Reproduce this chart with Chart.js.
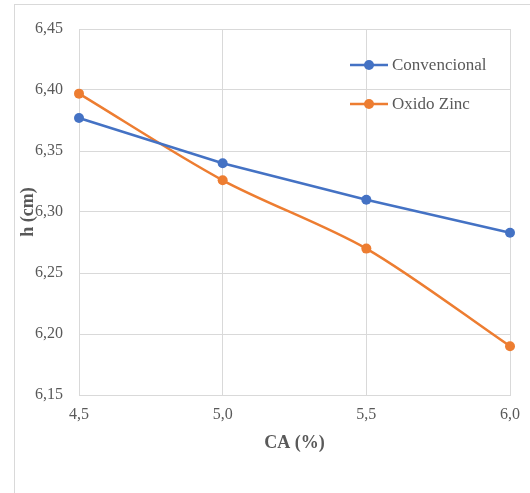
<!DOCTYPE html>
<html lang="es">
<head>
    <meta charset="UTF-8">
    <title>h vs CA</title>
    <script src="https://cdnjs.cloudflare.com/ajax/libs/Chart.js/4.4.0/chart.umd.min.js"></script>
    <style>
        body {
            margin: 0;
            background: #ffffff;
            overflow: hidden;
        }
        .frame {
            position: absolute;
            left: 14px;
            top: 4px;
            width: 600px;
            height: 600px;
            border: 1px solid #d9d9d9;
            box-sizing: border-box;
        }
        .wrap {
            position: absolute;
            left: 0;
            top: 0;
            width: 530px;
            height: 493px;
        }
    </style>
</head>
<body>
    <div class="frame"></div>
    <div class="wrap">
        <canvas id="chart" width="530" height="493"></canvas>
    </div>

    <script>
        const caValues = [4.5, 5.0, 5.5, 6.0];
        const convencional = [6.377, 6.340, 6.310, 6.283];
        const oxidoZinc = [6.397, 6.326, 6.270, 6.190];
        const seriesNames = ['Convencional', 'Oxido Zinc'];
        const seriesColors = ['#4472C4', '#ED7D31'];

        const textGray = '#595959';
        const gridGray = '#d9d9d9';
        const serif = '"Liberation Serif", "Times New Roman", serif';

        function toPoints(values) {
            return caValues.map((x, i) => ({x: x, y: values[i]}));
        }

        // legend drawn inside the plot area, top right, like the Excel original
        const innerLegend = {
            id: 'innerLegend',
            afterDraw(chart) {
                const ctx = chart.ctx;
                const rows = [65, 104];
                ctx.save();
                chart.data.datasets.forEach((ds, i) => {
                    const y = rows[i];
                    ctx.strokeStyle = ds.borderColor;
                    ctx.lineWidth = 2.5;
                    ctx.beginPath();
                    ctx.moveTo(350, y);
                    ctx.lineTo(388, y);
                    ctx.stroke();
                    ctx.fillStyle = ds.borderColor;
                    ctx.beginPath();
                    ctx.arc(369, y, 5, 0, Math.PI * 2);
                    ctx.fill();
                    ctx.fillStyle = textGray;
                    ctx.font = '17px ' + serif;
                    ctx.textBaseline = 'middle';
                    ctx.textAlign = 'left';
                    ctx.fillText(ds.label, 392, y + 1);
                });
                ctx.restore();
            }
        };

        const ctx = document.getElementById('chart').getContext('2d');
        new Chart(ctx, {
            type: 'line',
            data: {
                datasets: [
                    {
                        label: seriesNames[0],
                        data: toPoints(convencional),
                        borderColor: seriesColors[0],
                        backgroundColor: seriesColors[0],
                        borderWidth: 2.5,
                        pointRadius: 5,
                        pointBorderWidth: 0,
                        tension: 0,
                        clip: false
                    },
                    {
                        label: seriesNames[1],
                        data: toPoints(oxidoZinc),
                        borderColor: seriesColors[1],
                        backgroundColor: seriesColors[1],
                        borderWidth: 2.5,
                        pointRadius: 5,
                        pointBorderWidth: 0,
                        tension: 0.3,
                        clip: false
                    }
                ]
            },
            options: {
                responsive: false,
                animation: false,
                layout: {
                    padding: {left: 14, right: 16, top: 29, bottom: 39}
                },
                plugins: {
                    legend: {display: false},
                    tooltip: {enabled: false}
                },
                scales: {
                    x: {
                        type: 'linear',
                        min: 4.5,
                        max: 6.0,
                        afterFit(scale) { scale.height = 59; },
                        grid: {color: gridGray, drawTicks: false},
                        border: {color: gridGray},
                        ticks: {
                            stepSize: 0.5,
                            padding: 10,
                            color: textGray,
                            font: {family: serif, size: 16},
                            callback: v => v.toFixed(1).replace('.', ',')
                        },
                        title: {
                            display: true,
                            text: 'CA (%)',
                            color: textGray,
                            font: {family: serif, size: 18, weight: 'bold'},
                            padding: {top: 0, bottom: 0}
                        }
                    },
                    y: {
                        min: 6.15,
                        max: 6.45,
                        afterFit(scale) { scale.width = 65; },
                        grid: {color: gridGray, drawTicks: false},
                        border: {color: gridGray},
                        ticks: {
                            stepSize: 0.05,
                            padding: 16,
                            color: textGray,
                            font: {family: serif, size: 16},
                            callback: v => v.toFixed(2).replace('.', ',')
                        },
                        title: {
                            display: true,
                            text: 'h (cm)',
                            color: textGray,
                            font: {family: serif, size: 18, weight: 'bold'},
                            padding: {top: 4, bottom: 0}
                        }
                    }
                }
            },
            plugins: [innerLegend]
        });
    </script>
</body>
</html>
